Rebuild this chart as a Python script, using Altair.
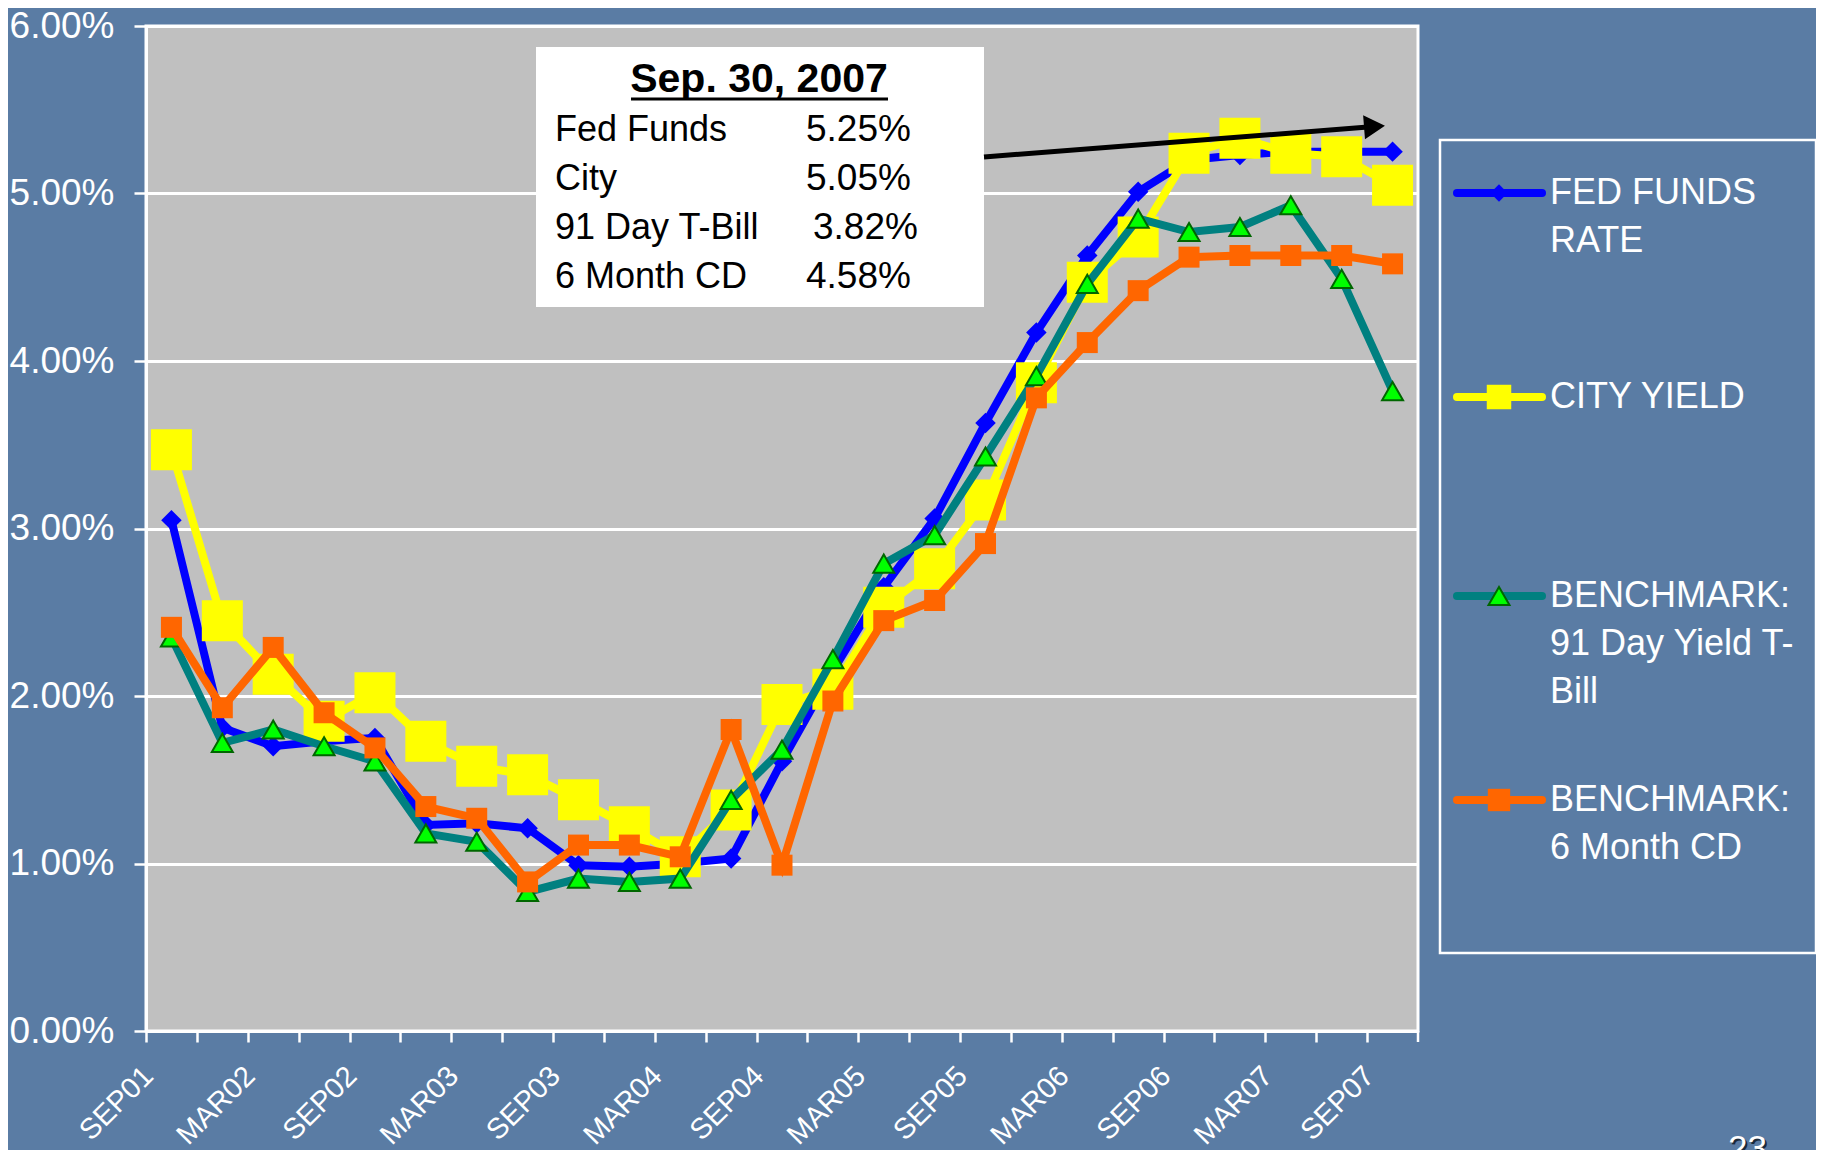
import altair as alt
import pandas as pd

# ---------------- data ----------------
quarters = ["SEP01", "DEC01", "MAR02", "JUN02", "SEP02", "DEC02", "MAR03", "JUN03",
            "SEP03", "DEC03", "MAR04", "JUN04", "SEP04", "DEC04", "MAR05", "JUN05",
            "SEP05", "DEC05", "MAR06", "JUN06", "SEP06", "DEC06", "MAR07", "JUN07", "SEP07"]
fed_funds = [3.05, 1.81, 1.70, 1.73, 1.75, 1.23, 1.24, 1.21, 0.99, 0.98, 1.00, 1.03, 1.61,
             2.15, 2.65, 3.06, 3.63, 4.17, 4.63, 5.01, 5.20, 5.23, 5.25, 5.25, 5.25]
city_yield = [3.47, 2.45, 2.13, 1.85, 2.02, 1.73, 1.58, 1.53, 1.38, 1.22, 1.04, 1.32, 1.95,
              2.04, 2.53, 2.76, 3.17, 3.87, 4.47, 4.74, 5.24, 5.33, 5.24, 5.22, 5.05]
tbill_91 = [2.35, 1.72, 1.80, 1.70, 1.61, 1.18, 1.13, 0.83, 0.91, 0.89, 0.91, 1.38, 1.68,
            2.22, 2.79, 2.96, 3.43, 3.91, 4.46, 4.85, 4.77, 4.80, 4.93, 4.49, 3.82]
cd_6m = [2.41, 1.93, 2.29, 1.90, 1.69, 1.34, 1.27, 0.89, 1.11, 1.11, 1.04, 1.80, 0.99,
         1.97, 2.45, 2.57, 2.91, 3.78, 4.11, 4.42, 4.62, 4.63, 4.63, 4.63, 4.58]
y_ticks = [0, 1, 2, 3, 4, 5, 6]
series_names = ["fed", "city", "tbill", "cd"]

box_title = "Sep. 30, 2007"
box_labels = ["Fed Funds", "City", "91 Day T-Bill", "6 Month CD"]
box_values = ["5.25%", "5.05%", "3.82%", "4.58%"]
legend_labels = [["FED FUNDS", "RATE"], ["CITY YIELD"],
                 ["BENCHMARK:", "91 Day Yield T-", "Bill"], ["BENCHMARK:", "6 Month CD"]]
page_number = "23"

# ---------------- layout / style ----------------
W, H = 1272, 1005
STEP = W / len(quarters)
FONT = "Liberation Sans"
BG = "#5a7ca4"
LW = 8
styles = [
    # line color, marker shape, marker fill, marker stroke, marker size, legend marker size
    ("#0000FF", "diamond", "#0000FF", "#0000FF", 420, 300),
    ("#FFFF00", "square", "#FFFF00", "#FFFF00", 1681, 600),
    ("#008080", "triangle-up", "#00FF00", "#006600", 440, 440),
    ("#FF6600", "square", "#FF6600", "#FF6600", 441, 500),
]
series = [fed_funds, city_yield, tbill_91, cd_6m]

rows = []
for name, vals in zip(series_names, series):
    for q, v in zip(quarters, vals):
        rows.append({"quarter": q, "rate": v, "series": name})
df = pd.DataFrame(rows)
dummy = pd.DataFrame({"k": [0]})

x_enc = alt.X(
    "quarter:N", sort=quarters, title=None,
    axis=alt.Axis(
        labelExpr="indexof(['SEP','MAR'], slice(datum.value, 0, 3)) >= 0 ? datum.value : ''",
        labelAngle=315, labelAlign="right", labelBaseline="middle",
        labelPadding=29, labelOffset=2, labelFontSize=29, labelColor="white", labelFont=FONT,
        tickColor="white", tickSize=11, tickWidth=2.5, tickOffset=-STEP / 2,
        domainColor="white", domainWidth=3, grid=False, labelOverlap=False,
    ),
)
y_enc = alt.Y(
    "rate:Q", title=None,
    scale=alt.Scale(domain=[0, 6], nice=False),
    axis=alt.Axis(
        values=y_ticks, labelExpr="format(datum.value / 100, '.2%')",
        labelFontSize=37, labelColor="white", labelFont=FONT, labelPadding=20,
        tickColor="white", tickSize=12, tickWidth=2.5,
        domainColor="white", domainWidth=3,
        grid=True, gridColor="white", gridWidth=3, gridOpacity=1,
    ),
)

layers = []
for name, (lc, shape, mfill, mstroke, msize, _) in zip(series_names, styles):
    base = alt.Chart(df).transform_filter(alt.datum.series == name).encode(x=x_enc, y=y_enc)
    layers.append(base.mark_line(color=lc, strokeWidth=LW))
    layers.append(base.mark_point(shape=shape, filled=True, fill=mfill, stroke=mstroke,
                                  strokeWidth=2 if shape == "triangle-up" else 0,
                                  size=msize, opacity=1))

# last x tick (right edge of the category axis)
extra = [alt.Chart(dummy).mark_rule(color="white", strokeWidth=2.5).encode(
    x=alt.value(W), y=alt.value(H), y2=alt.value(H + 11))]

# annotation box
anns = []
anns.append(alt.Chart(dummy).mark_rect(fill="white").encode(
    x=alt.value(390), x2=alt.value(838), y=alt.value(21), y2=alt.value(281)))
anns.append(alt.Chart(dummy).mark_text(font=FONT, fontSize=41, fontWeight="bold", color="black",
                                       align="center", baseline="middle").encode(
    x=alt.value(613), y=alt.value(54), text=alt.value(box_title)))
anns.append(alt.Chart(dummy).mark_rule(color="black", strokeWidth=3).encode(
    x=alt.value(485), x2=alt.value(742), y=alt.value(73)))
row_y = [104, 153, 202, 251]
val_x = [660, 660, 667, 660]
for lab, val, yy, vx in zip(box_labels, box_values, row_y, val_x):
    anns.append(alt.Chart(dummy).mark_text(font=FONT, fontSize=36, color="black",
                                           align="left", baseline="middle").encode(
        x=alt.value(409), y=alt.value(yy), text=alt.value(lab)))
    anns.append(alt.Chart(dummy).mark_text(font=FONT, fontSize=37, color="black",
                                           align="left", baseline="middle").encode(
        x=alt.value(vx), y=alt.value(yy), text=alt.value(val)))

# arrow
arrow = [
    alt.Chart(dummy).mark_rule(color="black", strokeWidth=5).encode(
        x=alt.value(838), y=alt.value(131), x2=alt.value(1222), y2=alt.value(101)),
    alt.Chart(dummy).mark_point(shape="triangle-right", filled=True, fill="black",
                                stroke="black", size=430, angle=355.6, opacity=1).encode(
        x=alt.value(1228), y=alt.value(100.5)),
]

# legend
leg = []
leg.append(alt.Chart(dummy).mark_rect(fillOpacity=0, stroke="white", strokeWidth=2.5).encode(
    x=alt.value(1294), x2=alt.value(1670), y=alt.value(114), y2=alt.value(927)))
leg_y = [167, 371, 570, 774]
for labs, yy, (lc, shape, mfill, mstroke, _, lsize) in zip(legend_labels, leg_y, styles):
    leg.append(alt.Chart(dummy).mark_rule(color=lc, strokeWidth=LW, strokeCap="round").encode(
        x=alt.value(1311), x2=alt.value(1396), y=alt.value(yy)))
    leg.append(alt.Chart(dummy).mark_point(shape=shape, filled=True, fill=mfill, stroke=mstroke,
                                           strokeWidth=2 if shape == "triangle-up" else 0,
                                           size=lsize, opacity=1).encode(
        x=alt.value(1353), y=alt.value(yy)))
    for k, lab in enumerate(labs):
        leg.append(alt.Chart(dummy).mark_text(font=FONT, fontSize=36, color="white",
                                              align="left", baseline="middle").encode(
            x=alt.value(1404), y=alt.value(yy + 48 * k), text=alt.value(lab)))

# slide page number (with a small shadow), partially cut at the bottom edge
leg.append(alt.Chart(dummy).mark_text(font=FONT, fontSize=35, color="#1a2a3a",
                                      align="left", baseline="top").encode(
    x=alt.value(1584), y=alt.value(1108), text=alt.value(page_number)))
leg.append(alt.Chart(dummy).mark_text(font=FONT, fontSize=35, color="white",
                                      align="left", baseline="top").encode(
    x=alt.value(1582), y=alt.value(1106), text=alt.value(page_number)))

chart = alt.layer(*(layers + extra + anns + arrow + leg)).properties(
    width=W, height=H,
    autosize=alt.AutoSizeParams(type="none"),
    padding={"left": 138, "top": 18, "right": 398, "bottom": 119},
    background=BG,
).configure_view(
    fill="#C0C0C0", stroke="white", strokeWidth=3,
)

chart.save("out.html", embed_options={"renderer": "svg", "actions": False})
